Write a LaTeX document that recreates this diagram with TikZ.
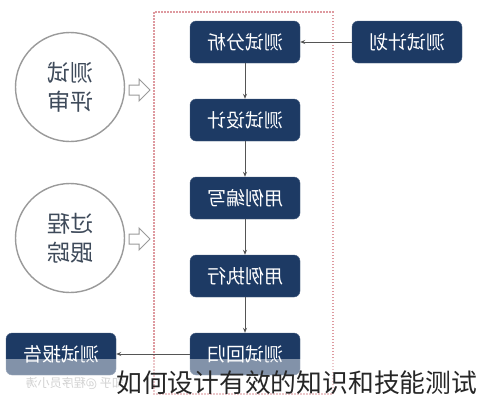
\documentclass[tikz,border=0pt]{standalone}
\usepackage{fontspec}
\newfontfamily\cjk{Noto Sans CJK SC}
\usetikzlibrary{arrows.meta,calc}
\definecolor{navy}{HTML}{1D3A64}
\definecolor{ringgray}{HTML}{9A9A9A}
\definecolor{circtext}{HTML}{3E4A5A}
\definecolor{dashred}{HTML}{DE9AA0}
\definecolor{linkgray}{HTML}{555555}
\tikzset{
  stepbox/.style={draw=navy!80, fill=navy, rounded corners=6pt, minimum width=110pt, minimum height=42pt,
    text=white, font=\cjk\fontsize{19}{19}\selectfont, inner sep=0pt, xscale=-1},
  ringnode/.style={circle, draw=ringgray, line width=1.4pt, minimum size=109pt, inner sep=0pt,
    text=circtext, align=center, font=\cjk\fontsize{23}{29}\selectfont, xscale=-1},
  link/.style={draw=linkgray, line width=0.8pt, -{Stealth[length=5pt,width=4pt]}},
  hollow/.style={draw=ringgray, line width=1pt, fill=white, line join=miter}
}
\begin{document}
\begin{tikzpicture}[x=1pt,y=-1pt]
\useasboundingbox (0,0) rectangle (480,400);
\fill[white] (0,0) rectangle (480,400);
% dashed frame
\draw[dashred, line width=1.1pt, dash pattern=on 1.5pt off 1.5pt] (154,12) rectangle (333,394);
% main column
\node[stepbox] (fx) at (245,42) {测试分析};
\node[stepbox] (sj) at (245,120) {测试设计};
\node[stepbox] (bx) at (245,198) {用例编写};
\node[stepbox] (zx) at (245,276) {用例执行};
\node[stepbox] (hg) at (245,354) {测试回归};
\node[stepbox] (jh) at (407,42) {测试计划};
\node[stepbox] (bg) at (61,354) {测试报告};
% circles
\node[ringnode] (ps) at (70,87) {测试\\评审};
\node[ringnode] (gz) at (70,238) {过程\\跟踪};
% connectors
\draw[link] (jh.east) -- (fx.west);
\draw[link] (fx.south) -- (sj.north);
\draw[link] (sj.south) -- (bx.north);
\draw[link] (bx.south) -- (zx.north);
\draw[link] (zx.south) -- (hg.north);
\draw[link] (hg.east) -- (bg.west);
% hollow arrows
\coordinate (ha1) at (129,90);
\coordinate (ha2) at (129,239);
\foreach \c in {ha1,ha2}{
  \draw[hollow] ($(\c)+(0,-5)$) -- ++(10,0) -- ++(0,-6) -- ++(11,11) -- ++(-11,11) -- ++(0,-6) -- ++(-10,0) -- cycle;
}
% bottom translucent band
\fill[white, opacity=0.45] (0,359) rectangle (480,400);
\node[text=gray!35, font=\cjk\fontsize{12}{12}\selectfont, xscale=-1, anchor=west, inner sep=0pt] (wm) at (124,383) {知乎 @程序员小涛};
\node[text=black!85, font=\cjk\fontsize{25.8}{26}\selectfont, anchor=base west, inner sep=0pt] (cap) at (116,392) {如何设计有效的知识和技能测试};
\end{tikzpicture}
\end{document}
